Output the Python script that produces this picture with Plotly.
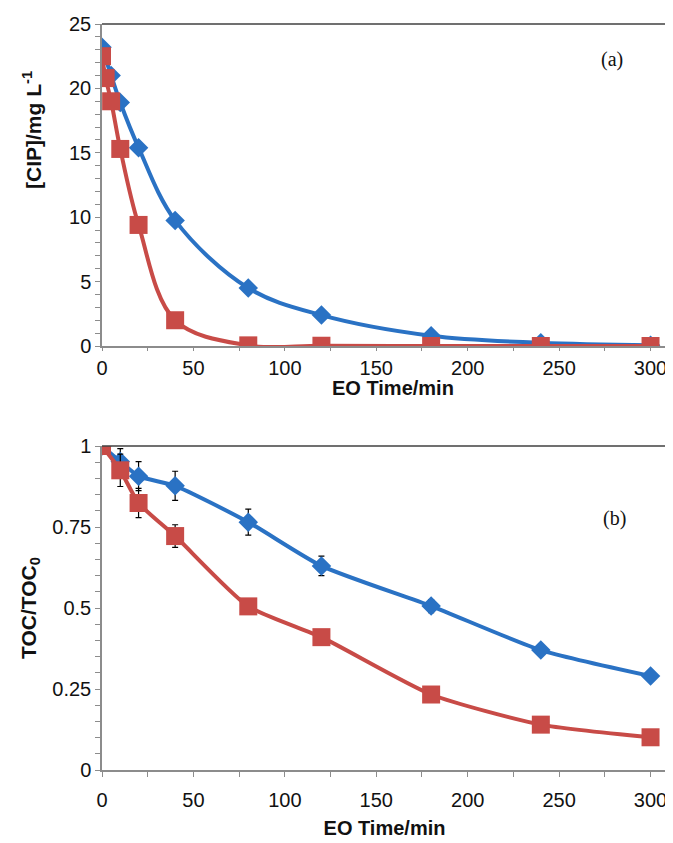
import plotly.graph_objects as go

# ---- data: panel (a) ----
t_blue_a = [0, 5, 10, 20, 40, 80, 120, 180, 240, 300]
cip_blue = [23.2, 21.0, 18.9, 15.4, 9.75, 4.5, 2.4, 0.8, 0.25, 0.05]
t_red_a = [0, 2, 5, 10, 20, 40, 80, 120, 180, 240, 300]
cip_red = [22.5, 20.8, 19.0, 15.3, 9.4, 2.0, 0.05, 0.02, 0.0, 0.0, 0.0]

# ---- data: panel (b) ----
t_b = [0, 10, 20, 40, 80, 120, 180, 240, 300]
toc_blue = [1.0, 0.952, 0.907, 0.877, 0.765, 0.630, 0.506, 0.370, 0.290]
toc_blue_err = [0.0, 0.04, 0.045, 0.045, 0.04, 0.03, 0.02, 0.01, 0.005]
toc_red = [1.0, 0.925, 0.824, 0.722, 0.505, 0.410, 0.233, 0.140, 0.101]
toc_red_err = [0.0, 0.05, 0.045, 0.035, 0.01, 0.01, 0.01, 0.01, 0.01]

x_ticks = [0, 50, 100, 150, 200, 250, 300]
ya_ticks = [0, 5, 10, 15, 20, 25]
yb_ticks = [0, 0.25, 0.5, 0.75, 1]
yb_labels = ["0", "0.25", "0.5", "0.75", "1"]

BLUE = "#2a72c4"
RED = "#c84b47"
AXC = "#8c8c8c"
FRAME = "#404040"
FONT = "Liberation Sans, Arial, sans-serif"
SERIF = "Liberation Serif, Times New Roman, serif"

OFF = 8  # default page body margin
W, H = 673 - OFF, 843 - OFF


def px_x(p):
    return (p - OFF) / W


def px_y(p):
    return 1 - (p - OFF) / H


fig = go.Figure()

fig.add_trace(go.Scatter(x=t_blue_a, y=cip_blue, mode="lines+markers",
                         line=dict(color=BLUE, width=4, shape="spline", smoothing=1.0),
                         marker=dict(symbol="diamond", size=15, color=BLUE),
                         xaxis="x", yaxis="y", showlegend=False))
fig.add_trace(go.Scatter(x=t_red_a, y=cip_red, mode="lines+markers",
                         line=dict(color=RED, width=4, shape="spline", smoothing=1.0),
                         marker=dict(symbol="square", size=18, color=RED),
                         xaxis="x", yaxis="y", showlegend=False))

fig.add_trace(go.Scatter(x=t_b, y=toc_blue, mode="lines+markers",
                         line=dict(color=BLUE, width=4, shape="spline", smoothing=0.6),
                         marker=dict(symbol="diamond", size=15, color=BLUE),
                         error_y=dict(type="data", array=toc_blue_err, color="black",
                                      thickness=1.2, width=3),
                         xaxis="x2", yaxis="y2", showlegend=False))
fig.add_trace(go.Scatter(x=t_b, y=toc_red, mode="lines+markers",
                         line=dict(color=RED, width=4, shape="spline", smoothing=0.6),
                         marker=dict(symbol="square", size=18, color=RED),
                         error_y=dict(type="data", array=toc_red_err, color="black",
                                      thickness=1.2, width=3),
                         xaxis="x2", yaxis="y2", showlegend=False))

xdom = [px_x(102), px_x(667)]
ya_dom = [px_y(346), px_y(24)]
yb_dom = [px_y(770), px_y(446)]

common_x = dict(range=[0, 309], tickvals=x_ticks, ticks="outside",
                tickcolor=AXC, showline=True, linecolor=AXC, linewidth=1.5,
                showgrid=False, zeroline=False, automargin=False,
                tickfont=dict(family=FONT, size=20, color="#111"))
common_y = dict(ticks="outside", ticklen=5, tickcolor=AXC, showline=True,
                linecolor=AXC, linewidth=1.5, showgrid=False, zeroline=False,
                automargin=False, tickfont=dict(family=FONT, size=20, color="#111"))

TFONT = dict(family=FONT, size=20, color="#111")

fig.update_layout(
    width=W, height=H, margin=dict(l=0, r=0, t=0, b=0),
    paper_bgcolor="white", plot_bgcolor="white",
    xaxis=dict(domain=xdom, anchor="y", ticklen=3,
               minor=dict(dtick=25, ticks="outside", ticklen=3, tickcolor=AXC),
               **common_x),
    yaxis=dict(domain=ya_dom, anchor="x", range=[0, 25], tickvals=ya_ticks,
               minor=dict(dtick=1, ticks="outside", ticklen=5, tickcolor=AXC),
               **common_y),
    xaxis2=dict(domain=xdom, anchor="y2", ticklen=5, ticklabelstandoff=6,
                minor=dict(dtick=25, ticks="outside", ticklen=5, tickcolor=AXC),
                title=dict(text="<b>EO Time/min</b>", standoff=11, font=TFONT),
                **common_x),
    yaxis2=dict(domain=yb_dom, anchor="x2", range=[0, 1], tickvals=yb_ticks,
                ticktext=yb_labels,
                minor=dict(dtick=0.05, ticks="outside", ticklen=5, tickcolor=AXC),
                title=dict(text="<b>TOC/TOC<sub>0</sub></b>", standoff=10,
                           font=dict(family=FONT, size=21, color="#111")),
                **common_y),
)

# top panel axis titles (placed to match the original's offsets)
fig.add_annotation(text="<b>EO Time/min</b>", xref="paper", yref="paper",
                   x=px_x(393), y=px_y(388), xanchor="center", yanchor="middle",
                   showarrow=False, font=TFONT)
fig.add_annotation(text="<b>[CIP]/mg L<sup>-1</sup></b>", xref="paper", yref="paper",
                   x=px_x(32), y=px_y(130), xanchor="center", yanchor="middle",
                   textangle=-90, showarrow=False,
                   font=dict(family=FONT, size=21, color="#111"))

# darker frame on top and right of each plot area
for xr, yr in [("x", "y"), ("x2", "y2")]:
    fig.add_shape(type="line", xref=f"{xr} domain", yref=f"{yr} domain",
                  x0=0, x1=1, y0=1, y1=1, line=dict(color=FRAME, width=1.5))
    fig.add_shape(type="line", xref=f"{xr} domain", yref=f"{yr} domain",
                  x0=1, x1=1, y0=0, y1=1, line=dict(color=FRAME, width=1.5))

fig.add_annotation(text="(a)", xref="paper", yref="paper", x=px_x(612), y=px_y(60),
                   xanchor="center", yanchor="middle",
                   showarrow=False, font=dict(family=SERIF, size=20, color="#111"))
fig.add_annotation(text="(b)", xref="paper", yref="paper", x=px_x(614), y=px_y(518),
                   xanchor="center", yanchor="middle",
                   showarrow=False, font=dict(family=SERIF, size=20, color="#111"))

fig.write_html("out.html")
